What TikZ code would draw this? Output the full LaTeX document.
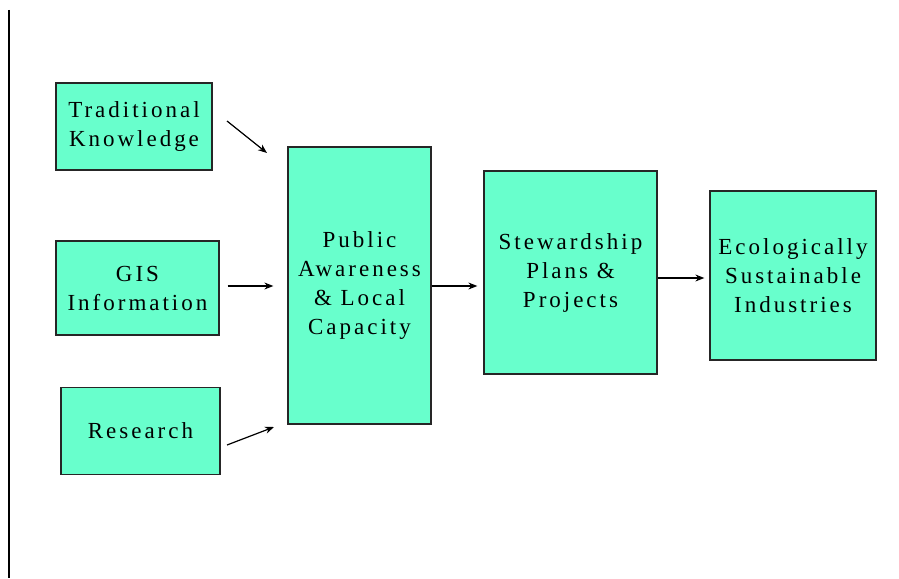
\documentclass[tikz,border=0pt]{standalone}
\usepackage{fontspec}
\usetikzlibrary{arrows.meta}
\newfontfamily\boxfont[LetterSpace=13]{Liberation Serif}
\definecolor{boxfill}{RGB}{104,255,204}
\tikzset{
  flowbox/.style={draw=black!85, line width=1.3pt, fill=boxfill, align=center,
    inner sep=0pt, font=\boxfont\fontsize{23}{29}\selectfont},
  arr/.style={line width=1.2pt, -{Stealth[length=9pt,width=7pt]}}
}
\begin{document}
\begin{tikzpicture}[x=1pt,y=-1pt]
\useasboundingbox (0,0) rectangle (899,578);
\draw[line width=1.5pt] (9,10) -- (9,578);
\node[flowbox, minimum width=156pt, minimum height=87pt] (tk) at (134,126.5) {Traditional\\Knowledge};
\node[flowbox, minimum width=163pt, minimum height=94pt] (gis) at (137.5,288) {GIS\\Information};
\node[flowbox, minimum width=159pt, minimum height=87pt] (res) at (140.5,431) {Research};
\node[flowbox, minimum width=143pt, minimum height=277pt] (pa) at (359.5,285.5) {Public\\Awareness\\\&~Local\\Capacity};
\node[flowbox, minimum width=173pt, minimum height=203pt] (st) at (570.5,272.5) {Stewardship\\Plans~\&\\Projects};
\node[flowbox, minimum width=166pt, minimum height=169pt] (eco) at (793,275.5) {Ecologically\\Sustainable\\Industries};
\coordinate (tkA) at (227,121);
\coordinate (tkB) at (267,153);
\coordinate (resA) at (227,445);
\coordinate (resB) at (274,427);
\draw[arr] (tkA) -- (tkB);
\draw[arr] (resA) -- (resB);
\draw[arr, shorten <=8pt, shorten >=14pt] (gis.east |- 0,286) -- (pa.west |- 0,286);
\draw[arr, shorten >=6pt] (pa.east |- 0,286) -- (st.west |- 0,286);
\draw[arr, shorten >=5pt] (st.east |- 0,278) -- (eco.west |- 0,278);
\end{tikzpicture}
\end{document}
